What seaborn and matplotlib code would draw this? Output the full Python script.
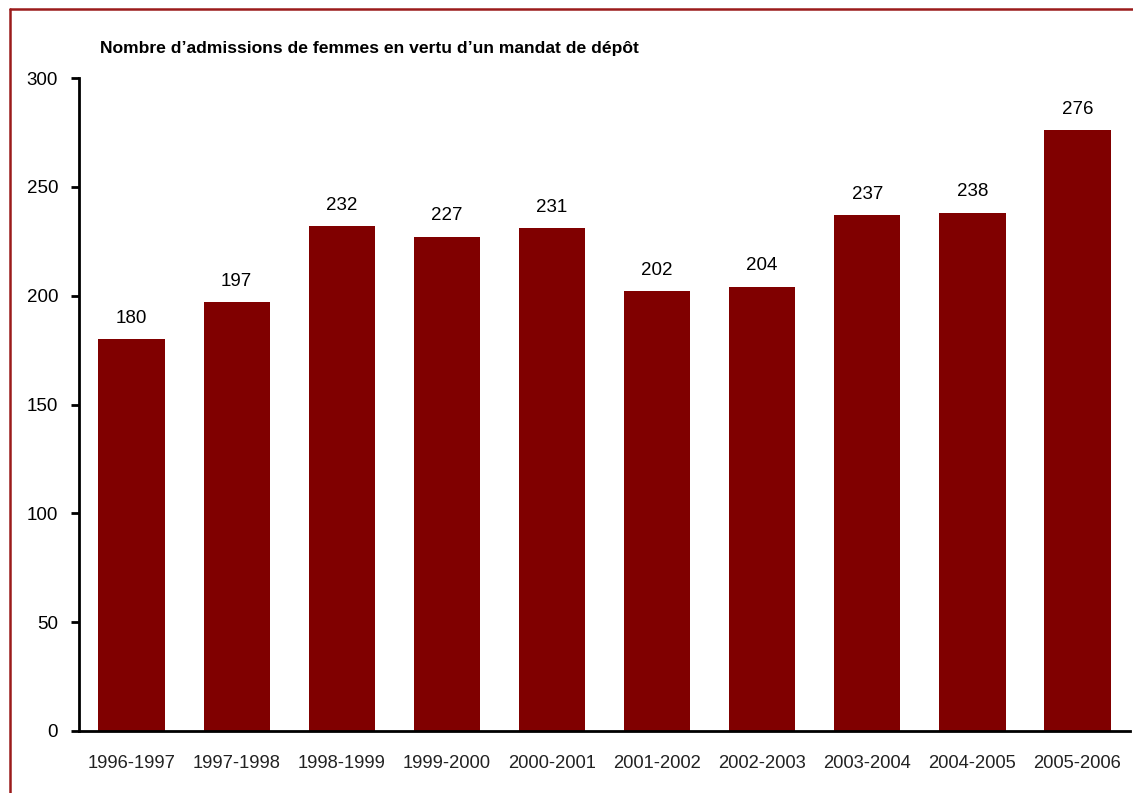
import matplotlib
matplotlib.use("Agg")
import matplotlib.pyplot as plt
from matplotlib import font_manager
from matplotlib.lines import Line2D
import seaborn as sns
import pandas as pd
import numpy as np

periods = ["1996-1997", "1997-1998", "1998-1999", "1999-2000", "2000-2001",
           "2001-2002", "2002-2003", "2003-2004", "2004-2005", "2005-2006"]
admissions = [180, 197, 232, 227, 231, 202, 204, 237, 238, 276]
yticks = [0, 50, 100, 150, 200, 250, 300]
title = "Nombre d\u2019admissions de femmes en vertu d\u2019un mandat de dépôt"

sns.set_theme(style="white")
names = {f.name for f in font_manager.fontManager.ttflist}
narrow = "Liberation Sans Narrow" if "Liberation Sans Narrow" in names else "Liberation Sans"
plt.rcParams['font.family'] = ['Liberation Sans', 'DejaVu Sans']

df = pd.DataFrame({"period": periods, "n": admissions})

fig = plt.figure(figsize=(11.33, 7.93), dpi=100)
ax = fig.add_axes([0.0697, 0.0782, 0.9277, 0.8234])
sns.barplot(data=df, x="period", y="n", color="#800000", saturation=1,
            width=0.63, linewidth=0, ax=ax)

ax.set_xlim(-0.5, len(periods) - 0.5)
ax.set_ylim(0, 300)
ax.set_yticks(yticks)
ax.set_yticklabels([str(t) for t in yticks], fontsize=13.5, color="black")
ax.set_xlabel("")
ax.set_ylabel("")

# x ticks at category boundaries, labels centered on categories
ax.set_xticks(np.arange(-0.5, len(periods), 1.0))
ax.set_xticklabels([])
ax.set_xticks(np.arange(len(periods)), minor=True)
ax.set_xticklabels(periods, minor=True, fontsize=13.2, family=narrow, color="#222222")
ax.tick_params(axis="x", which="major", direction="out", length=6, width=2, color="black")
ax.tick_params(axis="x", which="minor", length=0, pad=17)
ax.tick_params(axis="y", direction="out", length=6, width=2, color="black", pad=9, left=True)

for s in ["top", "right"]:
    ax.spines[s].set_visible(False)
for s in ["left", "bottom"]:
    ax.spines[s].set_color("black")
    ax.spines[s].set_linewidth(2)

for i, v in enumerate(admissions):
    ax.annotate(str(v), (i, v), xytext=(0, 9), textcoords="offset points",
                ha="center", va="bottom", fontsize=13.5, color="black")

fig.text(100 / 1133, 1 - 48 / 793, title, fontsize=12.6, fontweight="bold",
         family=narrow, ha="left", va="center", color="black")

# partial frame (top and left edges)
fig.add_artist(Line2D([10 / 1133, 10 / 1133], [0, 1 - 9 / 793], transform=fig.transFigure,
                      color="#9b1b1b", lw=1.8))
fig.add_artist(Line2D([10 / 1133, 1], [1 - 9 / 793, 1 - 9 / 793], transform=fig.transFigure,
                      color="#9b1b1b", lw=1.8))

fig.savefig("out.png", dpi=100)
